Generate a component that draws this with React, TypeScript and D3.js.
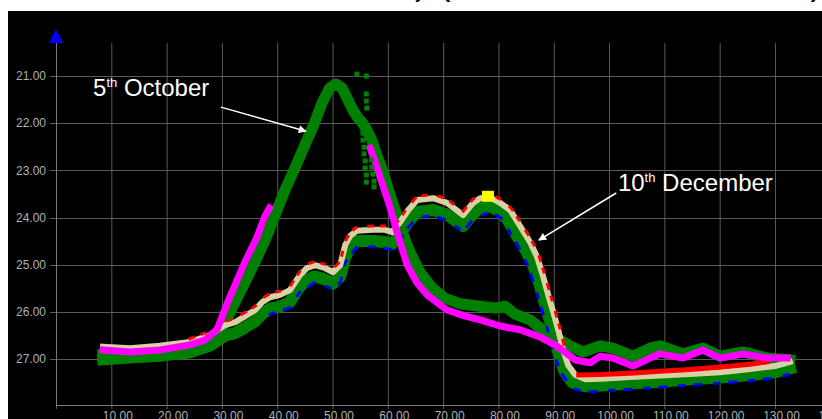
import React from "react";
import * as d3 from "d3";

const W = 822;
const H = 419;

const xTickValues = [0, 10, 20, 30, 40, 50, 60, 70, 80, 90, 100, 110, 120, 130, 140];
const yTickValues = [21, 22, 23, 24, 25, 26, 27];

// 5th October – green band
const octGreenX = [8.5, 13.4, 18.8, 24.2, 26.9, 28.8, 30.6, 32.4, 34.2, 36.0, 37.8, 39.6, 41.4, 43.2, 45.0, 46.8, 48.1, 49.5, 50.6, 51.7, 52.8, 53.7, 54.6, 55.3, 56.2, 57.1, 58.0, 59.0, 60.0, 61.3, 62.6, 64.0, 65.8, 68.0, 70.3, 73.1, 76.7, 79.4, 81.2, 83.0, 85.7, 87.5, 89.3, 91.1, 92.9, 95.3, 98.4, 100.7, 104.3, 107.4, 109.2, 113.4, 117.0, 120.1, 124.2, 128.6, 132.7];
const octGreenY = [27.02, 26.98, 26.94, 26.85, 26.72, 26.55, 26.22, 25.79, 25.37, 24.94, 24.48, 23.95, 23.42, 22.95, 22.46, 21.98, 21.57, 21.25, 21.17, 21.25, 21.51, 21.72, 21.89, 21.98, 22.14, 22.36, 22.67, 22.99, 23.37, 23.84, 24.31, 24.73, 25.16, 25.49, 25.71, 25.83, 25.88, 25.92, 25.88, 26.05, 26.17, 26.34, 26.49, 26.60, 26.72, 26.85, 26.72, 26.77, 26.94, 26.77, 26.72, 26.89, 26.77, 26.94, 26.85, 26.98, 27.02];

// 5th October – magenta band (gap near the peak)
const octMagentaX = [8.5, 13.4, 18.8, 24.2, 26.9, 29.1, 31.2, 34.1, 36.3, 37.7, 38.6, 45, 56.8, 57.7, 58.6, 59.5, 60.4, 61.7, 63.5, 65.3, 67.1, 70.7, 74.0, 76.7, 80.3, 83.9, 87.5, 90.2, 92.0, 93.9, 96.6, 98.4, 100.7, 104.3, 107.4, 109.2, 113.4, 117.0, 120.1, 124.2, 128.6, 132.2];
const octMagentaY = [26.81, 26.85, 26.81, 26.70, 26.60, 26.38, 25.75, 24.96, 24.43, 23.99, 23.80, null, 22.53, 22.82, 23.14, 23.46, 23.78, 24.33, 25.01, 25.39, 25.64, 25.96, 26.09, 26.17, 26.30, 26.38, 26.53, 26.70, 26.85, 27.02, 27.08, 26.94, 26.98, 27.15, 26.98, 26.89, 26.98, 26.81, 26.98, 26.89, 26.98, 26.98];

// 5th October – scattered green points near the peak
const octDotsX = [54.4, 56.1, 56.1, 56.1, 56.2, 55.5, 55.5, 55.7, 55.7, 55.9, 55.9, 56.1, 56.1, 57.0, 57.1, 57.3, 57.5, 57.5];
const octDotsY = [20.96, 21.0, 21.38, 21.53, 21.68, 22.21, 22.36, 22.51, 22.65, 22.8, 22.95, 23.1, 23.25, 22.78, 22.93, 23.08, 23.23, 23.35];

// 10th December – beige band
const decBeigeX = [8.5, 13.4, 18.8, 24.2, 27.8, 30.6, 32.4, 34.2, 36.0, 37.3, 38.7, 40.5, 42.3, 44.1, 45.4, 46.8, 48.6, 50.1, 51.4, 52.3, 53.2, 54.4, 57.3, 59.5, 60.8, 62.2, 63.7, 65.3, 68.2, 70.7, 73.6, 75.4, 76.7, 78.5, 80.3, 82.1, 83.9, 85.7, 87.0, 88.1, 89.0, 89.9, 90.8, 91.7, 92.6, 93.9, 95.7, 98.4, 103.8, 109.2, 114.6, 120.1, 125.5, 130.0, 132.7];
const decBeigeY = [26.74, 26.77, 26.72, 26.64, 26.49, 26.28, 26.22, 26.09, 25.96, 25.79, 25.69, 25.64, 25.54, 25.22, 25.07, 25.01, 25.07, 25.16, 25.01, 24.58, 24.39, 24.28, 24.26, 24.26, 24.31, 24.10, 23.84, 23.63, 23.59, 23.69, 23.95, 23.69, 23.59, 23.57, 23.69, 23.84, 24.18, 24.52, 24.84, 25.26, 25.64, 26.00, 26.38, 26.81, 27.13, 27.34, 27.43, 27.42, 27.38, 27.35, 27.32, 27.28, 27.21, 27.15, 27.06];

// 10th December – green band
const decGreenX = [8.5, 13.4, 18.8, 24.2, 27.8, 30.6, 32.4, 34.2, 36.0, 37.3, 38.7, 40.5, 42.3, 44.1, 45.4, 46.8, 48.6, 50.1, 51.4, 52.3, 53.2, 54.4, 57.3, 59.5, 60.8, 62.2, 63.7, 65.3, 68.2, 70.7, 73.6, 75.4, 76.7, 78.5, 80.3, 81.6, 83.2, 85.0, 86.3, 87.4, 88.3, 89.2, 90.1, 91.0, 92.0, 93.4, 95.7, 98.4, 103.8, 109.2, 114.6, 120.1, 125.5, 130.0, 132.7];
const decGreenY = [26.92, 26.95, 26.92, 26.86, 26.72, 26.50, 26.45, 26.33, 26.20, 26.04, 25.93, 25.89, 25.79, 25.46, 25.31, 25.25, 25.31, 25.40, 25.25, 24.83, 24.64, 24.50, 24.50, 24.52, 24.56, 24.35, 24.09, 23.88, 23.84, 23.94, 24.18, 23.92, 23.80, 23.76, 23.88, 24.04, 24.36, 24.70, 25.02, 25.40, 25.78, 26.14, 26.52, 26.94, 27.28, 27.50, 27.58, 27.56, 27.52, 27.48, 27.43, 27.39, 27.34, 27.28, 27.20];

// 10th December – blue edge
const decBlueX = [38.7, 42.3, 44.1, 46.8, 50.1, 51.4, 52.3, 54.4, 57.3, 60.8, 62.2, 63.7, 65.3, 68.2, 70.7, 73.6, 75.4, 78.5, 80.3, 80.8, 82.3, 84.0, 85.3, 86.4, 87.4, 88.3, 89.2, 90.2, 91.3, 93.4, 95.7, 98.4, 103.8, 109.2, 114.6, 120.1, 125.5, 130.0, 132.7];
const decBlueY = [26.05, 25.91, 25.58, 25.37, 25.52, 25.37, 24.95, 24.62, 24.62, 24.68, 24.47, 24.21, 24.0, 23.96, 24.06, 24.30, 24.04, 23.88, 24.0, 24.04, 24.36, 24.70, 25.02, 25.40, 25.78, 26.14, 26.52, 26.94, 27.30, 27.62, 27.70, 27.68, 27.64, 27.60, 27.55, 27.51, 27.46, 27.40, 27.32];

// 10th December – red points
const decRedX = [24.2, 27.8, 30.6, 32.4, 34.2, 36.0, 37.3, 38.7, 40.5, 42.3, 44.1, 45.4, 46.8, 48.6, 50.1, 51.4, 52.3, 53.2, 54.4, 57.3, 59.5, 60.8, 62.2, 63.7, 65.3, 68.2, 70.7, 73.6, 75.4, 76.7, 78.5, 80.3, 82.3, 84.2, 86.0, 87.3, 88.4, 89.3, 90.2, 91.1, 92.0, 93.0];
const decRedY = [26.57, 26.41, 26.20, 26.14, 26.01, 25.88, 25.71, 25.61, 25.56, 25.46, 25.14, 24.99, 24.93, 24.99, 25.08, 24.93, 24.50, 24.31, 24.20, 24.18, 24.18, 24.23, 24.02, 23.76, 23.55, 23.51, 23.61, 23.87, 23.61, 23.51, 23.49, 23.61, 23.80, 24.14, 24.48, 24.80, 25.22, 25.60, 25.96, 26.34, 26.77, 27.10];
const decRedLowX = [94.5, 98.4, 103.8, 109.2, 114.6, 120.1, 125.5, 128.5];
const decRedLowY = [27.34, 27.33, 27.30, 27.26, 27.22, 27.17, 27.11, 27.06];

// highlighted point
const markerX = [78.1];
const markerY = [23.55];

const FONT = "'Liberation Sans', Arial, sans-serif";

const zip = (xs: number[], ys: (number | null)[]) => xs.map((v, i) => [v, ys[i]] as [number, number | null]);

export default function App() {
  const x = d3.scaleLinear().domain([0, 138.5]).range([56, 822]);
  const y = d3.scaleLinear().domain([20.3, 27.975]).range([43, 405]);

  const line = d3
    .line<[number, number | null]>()
    .defined((d) => d[1] !== null)
    .x((d) => x(d[0]))
    .y((d) => y(d[1] as number))
    .curve(d3.curveLinear);

  const series = [
    { xs: decGreenX, ys: decGreenY, color: "#008000", w: 12, dash: undefined },
    { xs: octGreenX, ys: octGreenY, color: "#008000", w: 11, dash: undefined },
    { xs: decBlueX, ys: decBlueY, color: "#0000ff", w: 3, dash: "4 11 6 14" },
    { xs: decBeigeX, ys: decBeigeY, color: "#d9d1a3", w: 6, dash: undefined },
    { xs: decRedX, ys: decRedY, color: "#ff0000", w: 3, dash: "4 9 3 13" },
    { xs: decRedLowX, ys: decRedLowY, color: "#ff0000", w: 5, dash: undefined },
    { xs: octMagentaX, ys: octMagentaY, color: "#ff00ff", w: 7, dash: undefined },
  ];

  const gridColor = "#5a5a5a";

  return (
    <div style={{ position: "absolute", left: 0, top: 0, width: W, height: H }}>
      <svg width={W} height={H} style={{ display: "block", background: "#ffffff" }}>
        <defs>
          <marker id="arrowHead" viewBox="0 0 10 10" refX="9" refY="5" markerWidth="10" markerHeight="8" markerUnits="userSpaceOnUse" orient="auto">
            <path d="M0,0 L10,5 L0,10 z" fill="#ffffff" />
          </marker>
          <clipPath id="plotClip">
            <rect x={8} y={11} width={W - 8} height={H - 11} />
          </clipPath>
        </defs>

        {/* title (mostly outside the visible area) */}
        <text x={424} y={-1.5} textAnchor="end" fontFamily={FONT} fontWeight="bold" fontSize={16} fill="#000">
          Water Level History
        </text>
        <text x={443} y={-1.5} textLength={375} lengthAdjust="spacingAndGlyphs" fontFamily={FONT} fontWeight="bold" fontSize={16} fill="#000">
          (Observed Levels Oct to Dec 2023)
        </text>

        <rect x={8} y={11} width={W - 8} height={H - 11} fill="#000000" />

        <g clipPath="url(#plotClip)">
          {/* vertical grid */}
          {xTickValues.map((t) => (
            <line key={"vx" + t} x1={x(t) + 0.5} x2={x(t) + 0.5} y1={43} y2={409} stroke={gridColor} strokeWidth={1} />
          ))}
          {/* horizontal grid */}
          {yTickValues.map((t) => (
            <line key={"hy" + t} x1={50} x2={W} y1={Math.round(y(t)) + 0.5} y2={Math.round(y(t)) + 0.5} stroke={gridColor} strokeWidth={1} />
          ))}
          {/* axes */}
          <line x1={x(0) + 0.5} x2={x(0) + 0.5} y1={43} y2={405.5} stroke="#7a7a7a" strokeWidth={1} />
          <line x1={x(0)} x2={W} y1={405.5} y2={405.5} stroke="#7a7a7a" strokeWidth={1} />

          {/* y labels */}
          {yTickValues.map((t) => (
            <text key={"yl" + t} x={46} y={y(t)} dy="0.35em" textAnchor="end" fontFamily={FONT} fontSize={12} fill="#b0b0b0">
              {t.toFixed(2)}
            </text>
          ))}
          {/* x labels */}
          {xTickValues.filter((t) => t > 0).map((t) => (
            <text key={"xl" + t} x={x(t) + 6.5} y={420} textAnchor="middle" fontFamily={FONT} fontSize={12} fill="#b0b0b0">
              {t.toFixed(2)}
            </text>
          ))}

          {/* blue axis arrow */}
          <path d={`M${x(0)},29 L${x(0) - 7},43 L${x(0) + 7},43 Z`} fill="#0000ff" />

          {/* data bands */}
          {series.map((s, i) => (
            <path
              key={"s" + i}
              d={line(zip(s.xs, s.ys)) || ""}
              fill="none"
              stroke={s.color}
              strokeWidth={s.w}
              strokeLinejoin="round"
              strokeLinecap="square"
              strokeDasharray={s.dash}
            />
          ))}

          {/* scattered green points */}
          {octDotsX.map((v, i) => (
            <rect key={"d" + i} x={x(v) - 2.5} y={y(octDotsY[i]) - 2.5} width={5} height={5} fill="#008000" />
          ))}

          {/* highlighted marker */}
          {markerX.map((v, i) => (
            <rect key={"m" + i} x={x(v) - 6} y={y(markerY[i]) - 5.5} width={12} height={11} fill="#ffff00" />
          ))}

          {/* annotations */}
          <text x={x(6.7)} y={y(21.42)} fontFamily={FONT} fontSize={24} fill="#ffffff">
            5<tspan fontSize={13} dy={-9}>th</tspan>
            <tspan fontSize={24} dy={9}> October</tspan>
          </text>
          <line x1={x(29.8)} y1={y(21.66)} x2={x(45.2)} y2={y(22.17)} stroke="#ffffff" strokeWidth={1.5} markerEnd="url(#arrowHead)" />

          <text x={x(101.6)} y={y(23.44)} fontFamily={FONT} fontSize={24} fill="#ffffff">
            10<tspan fontSize={13} dy={-9}>th</tspan>
            <tspan fontSize={24} dy={9}> December</tspan>
          </text>
          <line x1={x(101.3)} y1={y(23.48)} x2={x(87.3)} y2={y(24.48)} stroke="#ffffff" strokeWidth={1.5} markerEnd="url(#arrowHead)" />
        </g>
      </svg>
    </div>
  );
}
